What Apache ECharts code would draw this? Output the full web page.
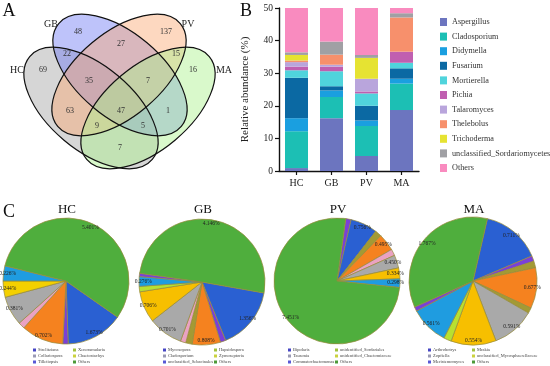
<!DOCTYPE html>
<html><head><meta charset="utf-8">
<script src="https://cdn.jsdelivr.net/npm/echarts@6/dist/echarts.min.js"></script>
<style>html,body{margin:0;padding:0;background:#fff}#c{width:550px;height:366px}</style>
</head><body><div id="c"></div>
<script>
// ---------- Panel A: Venn counts ----------
const vennSets = ['HC', 'GB', 'PV', 'MA'];
// order: HC, GB, PV, MA only; HC∩GB, GB∩PV, PV∩MA; HC∩GB∩PV, GB∩PV∩MA; HC∩PV, all, GB∩MA; HC∩PV∩MA, HC∩GB∩MA, HC∩MA
const vennCounts = [69, 48, 137, 16, 22, 27, 15, 35, 7, 63, 47, 1, 9, 5, 7];

// ---------- Panel B: relative abundance (%) ----------
const barGroups = ['HC', 'GB', 'PV', 'MA'];
const genera = ['Aspergillus', 'Cladosporium', 'Didymella', 'Fusarium', 'Mortierella', 'Pichia',
  'Talaromyces', 'Thelebolus', 'Trichoderma', 'unclassified_Sordariomycetes', 'Others'];
const aspergillus  = [0.9, 16.2, 4.6, 18.7];
const cladosporium = [11.3, 6.5, 9.2, 8.1];
const didymella    = [4.0, 2.0, 1.7, 1.5];
const fusarium     = [12.4, 1.3, 4.5, 3.2];
const mortierella  = [2.3, 4.6, 3.8, 1.7];
const pichia       = [1.1, 1.4, 0.6, 3.4];
const talaromyces  = [1.4, 0.6, 3.9, 0];
const thelebolus   = [0.5, 3.1, 0, 10.5];
const trichoderma  = [1.7, 0, 6.4, 0];
const unclSordario = [0.8, 4.0, 0.9, 1.3];
const othersBar    = [13.6, 10.3, 14.4, 1.6];
const yTicks = [0, 10, 20, 30, 40, 50];

const hcNames  = ['Strelitziana', 'Tilletiopsis', 'Xenoramularia', 'hc_4', 'Collariospora', 'Chaetostachys', 'hc_7', 'Others'];
const hcShares = [53, 5, 39, 6, 27, 15, 14, 201];
const hcLabels = ['1.673%', '', '0.702%', '', '0.381%', '0.244%', '0.226%', '5.401%'];

const gbNames  = ['Mycosopora', 'gb_2', 'Hapsidospora', 'gb_4', 'gb_5', 'unclassified_Sebacinales', 'Zymoseptoria', 'gb_8', 'gb_9', 'gb_10', 'Others'];
const gbShares = [58, 5, 26, 6, 5, 32, 29, 5, 9, 3, 182];
const gbLabels = ['1.356%', '', '0.808%', '', '', '0.701%', '0.706%', '', '0.276%', '', '4.146%'];

const pvNames  = ['Commatochaetomonas', 'Bipolaris', 'unidentified_Sordariales', 'pv_4', 'pv_5', 'Tausonia', 'unidentified_Chaetomiaceae', 'pv_8', 'Others'];
const pvShares = [5, 25, 6, 16, 6, 12, 10, 8, 272];
const pvLabels = ['', '0.756%', '', '0.495%', '', '0.450%', '0.334%', '0.298%', '7.451%'];

const maNames  = ['Arthrobotrys', 'Meristemomyces', 'ma_3', 'Mrakia', 'ma_5', 'Zopfiella', 'unclassified_Mycosphaerellaceae', 'ma_8', 'ma_9', 'ma_10', 'Others'];
const maShares = [54, 5, 6, 37, 5, 39, 41, 7, 35, 4, 127];
const maLabels = ['0.711%', '', '', '0.677%', '', '0.591%', '0.554%', '', '0.561%', '', '1.767%'];

const hcLegend = [['Strelitziana', 'Collariospora', 'Tilletiopsis'], ['Xenoramularia', 'Chaetostachys', 'Others']];
const gbLegend = [['Mycosopora', 'Cladosporium', 'unclassified_Sebacinales'], ['Hapsidospora', 'Zymoseptoria', 'Others']];
const pvLegend = [['Bipolaris', 'Tausonia', 'Commatochaetomonas'], ['unidentified_Sordariales', 'unidentified_Chaetomiaceae', 'Others']];
const maLegend = [['Arthrobotrys', 'Zopfiella', 'Meristemomyces'], ['Mrakia', 'unclassified_Mycosphaerellaceae', 'Others']];

// ---------- styles ----------
const SERIF = '"Liberation Serif", "DejaVu Serif", serif';
const barColors = ['#6c75bf', '#1cbfb4', '#1a9fe0', '#0b69a3', '#50d4dc', '#c05fb0',
  '#b9a5dc', '#f7906c', '#e6e332', '#a0a0a4', '#f98bbf'];
const C = { blue: '#2a60d2', purple: '#7a40d8', orange: '#f5821f', olive: '#a39a34', pink: '#eaa2c2',
  gray: '#a9a9a9', yellow: '#f4d000', lime: '#b8e030', lblue: '#1f9ce0', green: '#4fae3d', amber: '#f7bf00' };
const hcCols = [C.blue, C.purple, C.orange, C.pink, C.gray, C.yellow, C.lblue, C.green];
const gbCols = [C.blue, C.purple, C.orange, C.olive, C.pink, C.gray, C.amber, C.lime, C.lblue, C.purple, C.green];
const pvCols = [C.purple, C.blue, C.olive, C.orange, C.pink, C.gray, C.amber, C.lblue, C.green];
const maCols = [C.blue, C.purple, C.olive, C.orange, C.olive, C.gray, C.amber, C.lime, C.lblue, C.purple, C.green];
const legMarks = [['#4646c4', '#9a9ab4', '#5858d6'], ['#a2c23e', '#cbd23e', '#4c9a38']];

const barData = [aspergillus, cladosporium, didymella, fusarium, mortierella, pichia,
  talaromyces, thelebolus, trichoderma, unclSordario, othersBar];

const series = [];
genera.forEach((g, i) => {
  series.push({
    type: 'bar', name: g, stack: 'total', data: barData[i], barWidth: 23,
    itemStyle: { color: barColors[i] }, xAxisIndex: 0, yAxisIndex: 0, silent: true
  });
});

const pies = [
  { names: hcNames, shares: hcShares, labels: hcLabels, cols: hcCols, cx: 66, cy: 281, r: 63, start: -35 },
  { names: gbNames, shares: gbShares, labels: gbLabels, cols: gbCols, cx: 202, cy: 282, r: 63, start: -10 },
  { names: pvNames, shares: pvShares, labels: pvLabels, cols: pvCols, cx: 337, cy: 281, r: 63, start: 82 },
  { names: maNames, shares: maShares, labels: maLabels, cols: maCols, cx: 473, cy: 281, r: 64, start: 77 }
];
pies.forEach((p) => {
  series.push({
    type: 'pie', center: [p.cx, p.cy], radius: [0, p.r], startAngle: p.start, clockwise: true,
    silent: true, label: { show: false }, labelLine: { show: false },
    data: p.names.map((n, i) => ({ name: n, value: p.shares[i], itemStyle: { color: p.cols[i] } })),
    itemStyle: { borderColor: 'rgba(150,140,60,0.9)', borderWidth: 0.8 }
  });
});
pies.forEach((p) => {
  series.push({
    type: 'pie', center: [p.cx, p.cy], radius: [p.r * 0.77, p.r], startAngle: p.start, clockwise: true,
    silent: true, avoidLabelOverlap: false, labelLine: { show: false },
    itemStyle: { color: 'rgba(0,0,0,0)', borderWidth: 0 },
    label: {
      show: true, position: 'inside', fontSize: 5.5, fontFamily: SERIF, color: '#222',
      formatter: (q) => p.labels[q.dataIndex]
    },
    data: p.names.map((n, i) => ({ name: 'lbl' + i, value: p.shares[i] }))
  });
});

// ---------- legends ----------
const legends = [{
  data: genera, orient: 'vertical', left: 435, top: 12, icon: 'rect', itemWidth: 7, itemHeight: 8,
  itemGap: 4.6, selectedMode: false, textStyle: { fontSize: 8.2, fontFamily: SERIF, color: '#333', lineHeight: 10 }
}];
const pieLegendCols = [[33, 73], [163, 214], [288, 335], [428, 472]];
[hcLegend, gbLegend, pvLegend, maLegend].forEach((lg, k) => {
  lg.forEach((col, ci) => {
    legends.push({
      data: col.map((n, j) => ({ name: n, itemStyle: { color: legMarks[ci][j], borderWidth: 0, borderColor: 'transparent' } })),
      orient: 'vertical', left: pieLegendCols[k][ci], top: 347.5, icon: 'rect',
      itemWidth: 3, itemHeight: 3, itemGap: 1, selectedMode: false, padding: 0,
      itemStyle: { borderWidth: 0 },
      textStyle: { fontSize: 4.5, fontFamily: SERIF, color: '#444', lineHeight: 4.3, padding: [0, 0, 0, -3] }
    });
  });
});

// ---------- graphic: Venn + titles ----------
const g = [];
const vennFill = ['rgba(165,165,165,0.45)', 'rgba(110,122,245,0.45)', 'rgba(250,168,115,0.45)', 'rgba(170,242,140,0.45)'];
const vennGeom = [[91, 108, -40], [120, 75, -40], [119, 75, 40], [148, 108, 40]];
vennGeom.forEach((e, i) => {
  g.push({ type: 'ellipse', x: e[0], y: e[1], rotation: e[2] * Math.PI / 180,
    shape: { cx: 0, cy: 0, rx: 80, ry: 42 }, style: { fill: vennFill[i], stroke: 'none' }, silent: true });
});
vennGeom.forEach((e) => {
  g.push({ type: 'ellipse', x: e[0], y: e[1], rotation: e[2] * Math.PI / 180,
    shape: { cx: 0, cy: 0, rx: 80, ry: 42 }, style: { fill: 'none', stroke: '#111', lineWidth: 1.2 }, silent: true });
});
const vennPos = [[43, 70], [78, 32], [166, 32], [193, 70], [67, 54], [121, 44], [176, 54], [89, 81], [148, 81],
  [70, 111], [121, 111], [168, 111], [97, 126], [143, 126], [120, 148]];
vennCounts.forEach((v, i) => {
  g.push({ type: 'text', x: vennPos[i][0], y: vennPos[i][1], silent: true,
    style: { text: String(v), font: '8px ' + SERIF, fill: '#333', textAlign: 'center', textVerticalAlign: 'middle' } });
});
const vennLabelPos = [[17, 70], [51, 24], [188, 24], [224, 70]];
vennSets.forEach((s, i) => {
  g.push({ type: 'text', x: vennLabelPos[i][0], y: vennLabelPos[i][1], silent: true,
    style: { text: s, font: '10px ' + SERIF, fill: '#222', textAlign: 'center', textVerticalAlign: 'middle' } });
});
[['A', 9, 11], ['B', 246, 11], ['C', 9, 212]].forEach((t) => {
  g.push({ type: 'text', x: t[1], y: t[2], silent: true,
    style: { text: t[0], font: '18px ' + SERIF, fill: '#111', textAlign: 'center', textVerticalAlign: 'middle' } });
});
pies.forEach((p, i) => {
  g.push({ type: 'text', x: p.cx + 1, y: 210, silent: true,
    style: { text: barGroups[i], font: '13px ' + SERIF, fill: '#111', textAlign: 'center', textVerticalAlign: 'middle' } });
});

const chart = echarts.init(document.getElementById('c'), null, { renderer: 'canvas' });
chart.setOption({
  animation: false,
  backgroundColor: '#fff',
  grid: [{ left: 279, top: 8, width: 140, height: 163, containLabel: false }],
  xAxis: [{
    type: 'category', data: barGroups, gridIndex: 0,
    axisLine: { show: true, lineStyle: { color: '#111', width: 1.4 } },
    axisTick: { show: true, alignWithLabel: true, length: 4, lineStyle: { color: '#111', width: 1.2 } },
    axisLabel: { fontSize: 10, fontFamily: SERIF, color: '#222', margin: 7 },
    splitLine: { show: false }
  }],
  yAxis: [{
    type: 'value', gridIndex: 0, min: 0, max: 50, interval: 10,
    name: 'Relative abundance (%)', nameLocation: 'middle', nameGap: 28,
    nameTextStyle: { fontSize: 11, fontFamily: SERIF, color: '#222' },
    axisLine: { show: true, lineStyle: { color: '#111', width: 1.4 } },
    axisTick: { show: true, length: 4, lineStyle: { color: '#111', width: 1.2 } },
    axisLabel: { fontSize: 9.5, fontFamily: SERIF, color: '#222', margin: 6,
      formatter: (v) => (yTicks.indexOf(v) >= 0 ? String(v) : '') },
    splitLine: { show: false }
  }],
  legend: legends,
  series: series,
  graphic: g
});
</script></body></html>
